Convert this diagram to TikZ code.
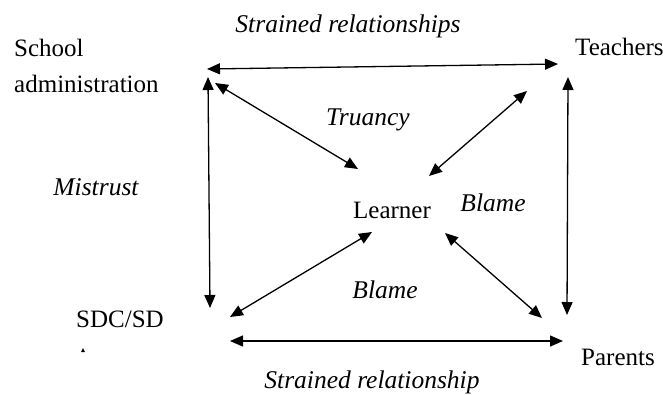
\documentclass[tikz,border=0pt]{standalone}
\usepackage{fontspec}
\setmainfont{Liberation Serif}
\usetikzlibrary{arrows.meta}
\tikzset{role/.style={inner sep=0pt,font=\fontsize{25}{36}\selectfont,align=left},
         rel/.style={inner sep=0pt,font=\fontsize{25.5}{30}\selectfont\itshape},
         link/.style={{Triangle[length=13pt,width=11pt]}-{Triangle[length=13pt,width=11pt]},line width=1.3pt}}
\begin{document}
\begin{tikzpicture}[x=1pt,y=-1pt]
    \useasboundingbox (0,0) rectangle (663,394);
    % the four parties round the learner
    \node (adm) [role, anchor=base west] at (14,92) {School\\administration};
    \node (tch) [role, anchor=base west] at (575,55) {Teachers};
    \node (sdc) [role, anchor=base west] at (76,327) {SDC/SD};
    \node (par) [role, anchor=base west] at (581,365) {Parents};
    \node (lrn) [role, anchor=base] at (392,218) {Learner};
    \fill (81,352) -- (83,348) -- (85,352) -- cycle;
    % relation labels
    \node (strtop) [rel, anchor=base] at (348,32) {Strained relationships};
    \node (trua)  [rel, anchor=base] at (368,125) {Truancy};
    \node (mist)  [rel, anchor=base] at (96,195) {Mistrust};
    \node (blr)   [rel, anchor=base] at (493,211) {Blame};
    \node (blb)   [rel, anchor=base] at (385,298) {Blame};
    \node (strbot)[rel, anchor=base] at (372,388) {Strained relationship};
    % arrow ends
    \coordinate (admE) at (207,69);   \coordinate (admS) at (208,77);   \coordinate (admSE) at (215,83);
    \coordinate (tchW) at (558,64);   \coordinate (tchS) at (568,77);   \coordinate (tchSW) at (527,91);
    \coordinate (sdcN) at (210,308);  \coordinate (sdcNE) at (230,317); \coordinate (sdcE) at (230,341);
    \coordinate (parW) at (563,341);  \coordinate (parN) at (567,315);  \coordinate (parNW) at (542,318);
    \coordinate (lrnNW) at (358,169); \coordinate (lrnNE) at (429,176);
    \coordinate (lrnSW) at (372,232); \coordinate (lrnSE) at (445,233);
    \draw[link] (admE) -- (tchW);
    \draw[link] (admS) -- (sdcN);
    \draw[link] (tchS) -- (parN);
    \draw[link] (sdcE) -- (parW);
    \foreach \a/\b in {admSE/lrnNW, tchSW/lrnNE, sdcNE/lrnSW, parNW/lrnSE}
        {\draw[link] (\a) -- (\b);}
\end{tikzpicture}
\end{document}
